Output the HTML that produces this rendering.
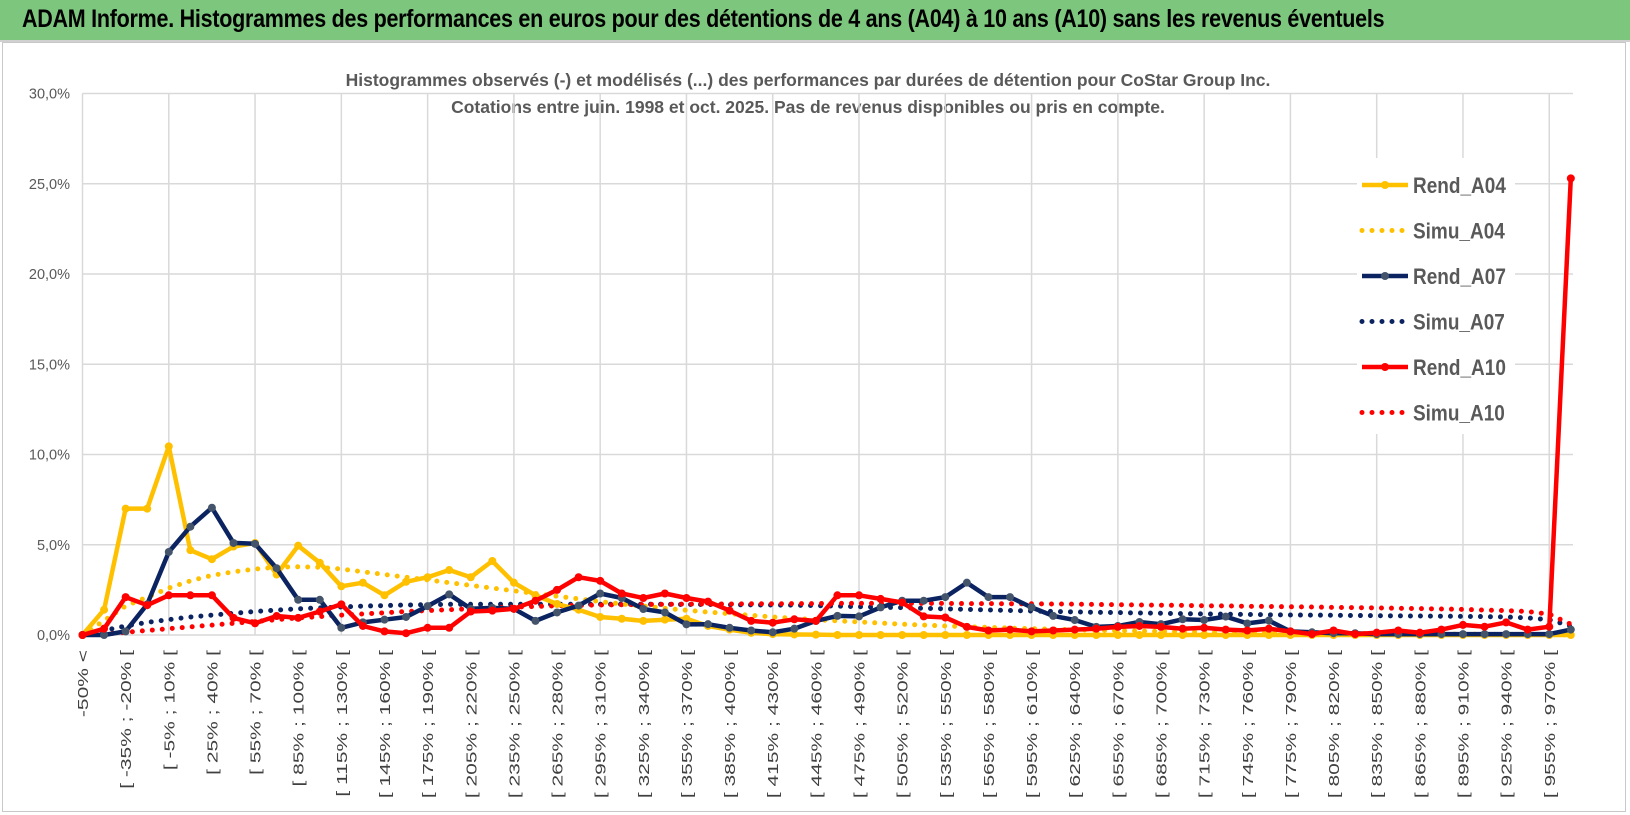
<!DOCTYPE html>
<html><head><meta charset="utf-8">
<style>
html,body{margin:0;padding:0;background:#fff;}
body{width:1630px;height:815px;overflow:hidden;position:relative;font-family:"Liberation Sans",sans-serif;}
#title{position:absolute;left:0;top:0;width:1630px;height:42px;background:#7cc67d;border-bottom:2px solid #d0d0d0;box-sizing:border-box;}
#title span{position:absolute;left:22px;top:5px;font-size:25px;font-weight:bold;color:#000;white-space:nowrap;letter-spacing:-0.3px;transform:scaleX(0.86);transform-origin:0 0;}
#frame{position:absolute;left:2px;top:42px;width:1624px;height:770px;border:1px solid #c8c8c8;box-sizing:border-box;}
</style></head>
<body>
<div id="title"><span>ADAM Informe. Histogrammes des performances en euros pour des détentions de 4 ans (A04) à 10 ans (A10) sans les revenus éventuels</span></div>
<div id="frame"></div>
<svg id="chart" width="1630" height="815" style="position:absolute;left:0;top:0" xmlns="http://www.w3.org/2000/svg"></svg>
<script>
const rendA04=[0,1.4,7.0,7.0,10.45,4.7,4.2,4.9,5.1,3.35,4.95,4.0,2.7,2.9,2.2,2.95,3.2,3.6,3.2,4.1,2.9,2.2,1.72,1.4,1.0,0.9,0.78,0.85,0.9,0.5,0.3,0.12,0.05,0.03,0.02,0,0,0,0,0,0,0,0,0,0,0,0,0,0,0,0,0,0,0,0,0,0,0,0,0,0,0,0,0,0,0,0,0,0,0];
const simuA04=[0,0.8,1.6,2.1,2.6,3.0,3.3,3.5,3.65,3.75,3.78,3.75,3.65,3.5,3.35,3.2,3.05,2.9,2.75,2.6,2.45,2.3,2.15,2.0,1.85,1.72,1.6,1.48,1.37,1.27,1.18,1.09,1.0,0.92,0.85,0.78,0.72,0.66,0.6,0.55,0.5,0.46,0.42,0.38,0.35,0.32,0.29,0.26,0.24,0.22,0.2,0.18,0.17,0.15,0.14,0.13,0.12,0.11,0.1,0.09,0.08,0.07,0.06,0.05,0.05,0.04,0.03,0.03,0.02,0];
const rendA07=[0,0,0.2,1.7,4.6,6.0,7.05,5.1,5.05,3.7,1.95,1.95,0.4,0.7,0.85,1.0,1.6,2.25,1.45,1.5,1.45,0.78,1.25,1.63,2.3,2.05,1.44,1.25,0.59,0.6,0.4,0.25,0.15,0.35,0.78,1.06,1.03,1.53,1.9,1.9,2.1,2.9,2.1,2.1,1.53,1.06,0.83,0.45,0.5,0.72,0.6,0.87,0.83,1.02,0.64,0.8,0.2,0.15,0.1,0.1,0.05,0.05,0.05,0.05,0.05,0.05,0.05,0.05,0.05,0.3];
const simuA07=[0,0.25,0.5,0.7,0.85,1.0,1.1,1.2,1.3,1.38,1.45,1.5,1.55,1.6,1.63,1.66,1.68,1.7,1.7,1.7,1.7,1.7,1.7,1.7,1.7,1.7,1.7,1.7,1.69,1.69,1.68,1.67,1.66,1.65,1.63,1.6,1.57,1.54,1.51,1.48,1.45,1.42,1.39,1.36,1.33,1.3,1.28,1.26,1.24,1.22,1.2,1.18,1.17,1.15,1.14,1.12,1.11,1.1,1.09,1.08,1.07,1.06,1.05,1.04,1.03,1.02,1.0,0.95,0.85,0.5];
const rendA10=[0,0.35,2.1,1.65,2.2,2.2,2.2,0.95,0.65,1.05,0.95,1.3,1.7,0.5,0.2,0.1,0.4,0.4,1.3,1.35,1.45,1.9,2.5,3.2,3.0,2.3,2.05,2.3,2.05,1.85,1.35,0.78,0.68,0.87,0.78,2.2,2.2,2.0,1.8,1.03,0.97,0.45,0.25,0.3,0.2,0.25,0.3,0.35,0.45,0.5,0.45,0.35,0.4,0.3,0.25,0.35,0.2,0.05,0.25,0.05,0.13,0.25,0.13,0.3,0.56,0.46,0.7,0.3,0.46,25.3];
const simuA10=[0,0.05,0.15,0.25,0.35,0.45,0.55,0.65,0.75,0.85,0.95,1.02,1.1,1.17,1.23,1.3,1.35,1.4,1.45,1.5,1.55,1.58,1.62,1.64,1.66,1.68,1.69,1.7,1.71,1.71,1.72,1.73,1.73,1.74,1.74,1.75,1.75,1.75,1.75,1.75,1.75,1.74,1.74,1.73,1.73,1.72,1.71,1.69,1.68,1.66,1.65,1.64,1.62,1.61,1.59,1.58,1.56,1.55,1.53,1.52,1.5,1.48,1.46,1.44,1.42,1.38,1.35,1.3,1.15,0.6];
const yTicks=[0,5,10,15,20,25,30];
const yTickLabels=["0,0%","5,0%","10,0%","15,0%","20,0%","25,0%","30,0%"];
const categories=[];
categories.push("-50% <");
for(let k=1;k<70;k++){categories.push("[ "+(-50+15*(k-1))+"% ; "+(-35+15*(k-1))+"% [");}

const NS="http://www.w3.org/2000/svg";
const svg=document.getElementById('chart');
const X0=82.5, DX=21.57, Y0=635, PY=18.05;
const xs=i=>X0+DX*i;
const ys=v=>Y0-PY*v;
function mk(tag,attrs,parent){const e=document.createElementNS(NS,tag);for(const k in attrs)e.setAttribute(k,attrs[k]);(parent||svg).appendChild(e);return e;}

const st1=mk('text',{x:808,y:86,'text-anchor':'middle','font-size':'17.5','font-weight':'bold',fill:'#595959','font-family':'Liberation Sans, sans-serif'});


st1.textContent="Histogrammes observés (-) et modélisés (...) des performances par durées de détention pour CoStar Group Inc.";
const st2=mk('text',{x:808,y:113,'text-anchor':'middle','font-size':'17.5','font-weight':'bold',fill:'#595959','font-family':'Liberation Sans, sans-serif'});


st2.textContent="Cotations entre juin. 1998 et oct. 2025. Pas de revenus disponibles ou pris en compte.";

const grid=mk('g',{});


yTicks.forEach((t,j)=>{
  const l=mk('line',{x1:X0,x2:1573,y1:ys(t),y2:ys(t),stroke:'#d9d9d9','stroke-width':1.5},grid);
  
  
  const tx=mk('text',{x:70,y:ys(t)+5,'text-anchor':'end','font-size':'14.5',fill:'#595959','font-family':'Liberation Sans, sans-serif'});
  
  
  tx.textContent=yTickLabels[j];
});
for(let i=0;i<categories.length;i+=4){
  const l=mk('line',{x1:xs(i),x2:xs(i),y1:ys(30),y2:Y0,stroke:'#d9d9d9','stroke-width':1.5},grid);
  
  
}
for(let i=0;i<categories.length;i+=2){
  const t=mk('text',{x:0,y:0,'text-anchor':'end','font-size':'15',fill:'#404040','font-family':'Liberation Sans, sans-serif',transform:`translate(${xs(i)+5.5},650) rotate(-90) scale(1.4,1)`});
  
  
  t.textContent=categories[i];
}

function pts(arr){return arr.map((v,i)=>xs(i).toFixed(1)+','+ys(v).toFixed(1)).join(' ');}
function dotted(arr,color,name){
  const p=mk('polyline',{points:pts(arr),fill:'none',stroke:color,'stroke-width':5,'stroke-linecap':'round','stroke-dasharray':'0 10'});
  
  
}
function solid(arr,color,mcolor,name){
  const g=mk('g',{});
  
  
  mk('polyline',{points:pts(arr),fill:'none',stroke:color,'stroke-width':4.5,'stroke-linejoin':'round'},g);
  arr.forEach((v,i)=>{
    const c=mk('circle',{cx:xs(i),cy:ys(v),r:4,fill:mcolor},g);
    
    
  });
}
dotted(simuA07,'#0b2360','series-simu-a07');
dotted(simuA10,'#ff0000','series-simu-a10');
dotted(simuA04,'#ffc000','series-simu-a04');
solid(rendA04,'#ffc000','#ffc000','series-rend-a04');
solid(rendA07,'#0b2360','#44546a','series-rend-a07');
solid(rendA10,'#ff0000','#ff0000','series-rend-a10');

const lg=mk('g',{});


mk('rect',{x:1357,y:158,width:158,height:276,fill:'#fff'},lg);
const leg=[["Rend_A04","#ffc000","#ffc000",false],["Simu_A04","#ffc000","",true],["Rend_A07","#0b2360","#44546a",false],["Simu_A07","#0b2360","",true],["Rend_A10","#ff0000","#ff0000",false],["Simu_A10","#ff0000","",true]];
leg.forEach((e,k)=>{
  const y=185+45.5*k;
  const g=mk('g',{},lg);
  
  
  if(e[3]){mk('line',{x1:1362,x2:1408,y1:y,y2:y,stroke:e[1],'stroke-width':5,'stroke-linecap':'round','stroke-dasharray':'0 10'},g);}
  else{mk('line',{x1:1362,x2:1408,y1:y,y2:y,stroke:e[1],'stroke-width':4.5},g);mk('circle',{cx:1385,cy:y,r:4,fill:e[2]},g);}
  const t=mk('text',{x:1413,y:y+7,'font-size':'19','font-weight':'bold',fill:'#595959','font-family':'Liberation Sans, sans-serif',transform:`translate(0,${y}) scale(1,1.15) translate(0,${-y})`},g);
  t.textContent=e[0];
});
</script>
</body></html>
